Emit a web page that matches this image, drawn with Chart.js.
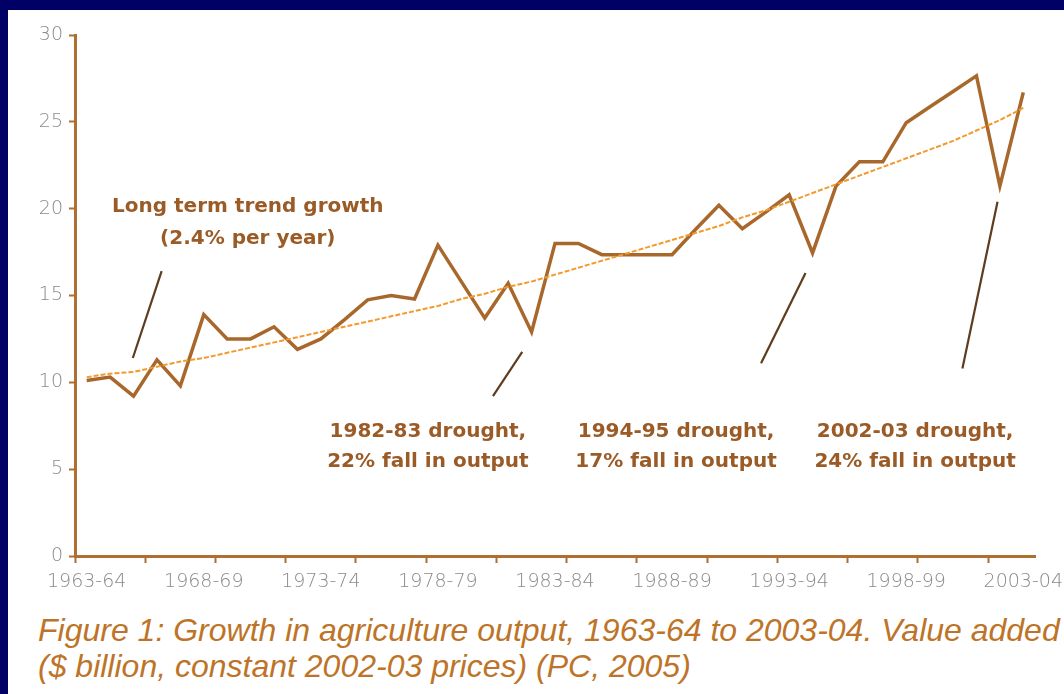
<!DOCTYPE html>
<html>
<head>
<meta charset="utf-8">
<title>Growth in agriculture output</title>
<script src="https://cdn.jsdelivr.net/npm/chart.js@4.4.1/dist/chart.umd.min.js"></script>
<style>
    html, body { margin: 0; padding: 0; }
    body { width: 1064px; height: 694px; background: #000066; position: relative; overflow: hidden; }
    .panel { position: absolute; left: 8px; top: 10px; width: 1056px; height: 684px; background: #ffffff; }
    .chart-box { position: absolute; left: 0; top: 0; width: 1056px; height: 600px; }
    .caption {
        position: absolute; left: 30px; top: 602px;
        font-family: "Liberation Sans", sans-serif;
        font-style: italic; font-size: 32px; line-height: 36px;
        color: #bd7428; white-space: nowrap;
    }
</style>
</head>
<body>
<div class="panel">
    <div class="chart-box"><canvas id="agri-chart"></canvas></div>
    <div class="caption">Figure 1: Growth in agriculture output, 1963-64 to 2003-04. Value added<br>($ billion, constant 2002-03 prices) (PC, 2005)</div>
</div>
<script>
// financial years on the x axis
const years = [
    '1963-64', '1964-65', '1965-66', '1966-67', '1967-68', '1968-69', '1969-70', '1970-71',
    '1971-72', '1972-73', '1973-74', '1974-75', '1975-76', '1976-77', '1977-78', '1978-79',
    '1979-80', '1980-81', '1981-82', '1982-83', '1983-84', '1984-85', '1985-86', '1986-87',
    '1987-88', '1988-89', '1989-90', '1990-91', '1991-92', '1992-93', '1993-94', '1994-95',
    '1995-96', '1996-97', '1997-98', '1998-99', '1999-00', '2000-01', '2001-02', '2002-03',
    '2003-04'
];

// value added, $ billion
const output = [
    10.1, 10.3, 9.2, 11.3, 9.8, 13.9, 12.5, 12.5, 13.2, 11.9,
    12.5, 13.6, 14.75, 15.0, 14.8, 17.9, 15.8, 13.7, 15.7, 12.9,
    18.0, 18.0, 17.35, 17.35, 17.35, 17.35, 18.8, 20.2, 18.85, 19.8,
    20.8, 17.45, 21.3, 22.7, 22.7, 24.95, 25.85, 26.75, 27.65, 21.3,
    26.7
];

// long term trend line
const trend = [
    10.3, 10.5, 10.6, 10.9, 11.2, 11.4, 11.7, 12.0, 12.3, 12.6,
    12.9, 13.2, 13.5, 13.8, 14.1, 14.4, 14.8, 15.1, 15.5, 15.8,
    16.2, 16.6, 17.0, 17.4, 17.8, 18.2, 18.6, 19.0, 19.5, 19.9,
    20.4, 20.9, 21.4, 21.9, 22.4, 22.9, 23.4, 23.9, 24.5, 25.1,
    25.8
];

const yTicks = [0, 5, 10, 15, 20, 25, 30];

// annotation text and the little pointer strokes, in data units
const notes = [
    { text: ['Long term trend growth', '(2.4% per year)'], x: 6.88, y: 19.8, gap: 32 },
    { text: ['1982-83 drought,', '22% fall in output'], x: 14.57, y: 6.85, gap: 30 },
    { text: ['1994-95 drought,', '17% fall in output'], x: 25.17, y: 6.85, gap: 30 },
    { text: ['2002-03 drought,', '24% fall in output'], x: 35.38, y: 6.85, gap: 30 }
];
const pointers = [
    [{ x: 1.97, y: 11.4 }, { x: 3.2, y: 16.4 }],
    [{ x: 17.35, y: 9.2 }, { x: 18.6, y: 11.75 }],
    [{ x: 28.8, y: 11.1 }, { x: 30.7, y: 16.3 }],
    [{ x: 37.4, y: 10.8 }, { x: 38.9, y: 20.4 }]
];

const axisColor = '#b06e30';
const lineColor = '#a8682c';
const trendColor = '#f29a2e';
const noteColor = '#9a5b27';
const pointerColor = '#5e3c1e';
const tickTextColor = '#8a8a8a';

Chart.defaults.font.family = '"DejaVu Sans", sans-serif';

const notePlugin = {
    id: 'notes',
    afterDatasetsDraw(chart) {
        const { ctx, scales: { x, y } } = chart;
        ctx.save();
        ctx.font = 'bold 20px "DejaVu Sans"';
        ctx.fillStyle = noteColor;
        ctx.textAlign = 'center';
        ctx.textBaseline = 'alphabetic';
        notes.forEach(n => {
            const px = x.getPixelForValue(n.x);
            const py = y.getPixelForValue(n.y);
            n.text.forEach((line, k) => ctx.fillText(line, px, py + k * n.gap));
        });
        ctx.restore();
    }
};

const datasets = [
    {
        label: 'Trend',
        data: trend.map((v, i) => ({ x: i, y: v })),
        borderColor: trendColor,
        borderWidth: 2,
        borderDash: [5, 2],
        pointRadius: 0,
        tension: 0
    },
    {
        label: 'Value added',
        data: output.map((v, i) => ({ x: i, y: v })),
        borderColor: lineColor,
        borderWidth: 3.5,
        pointRadius: 0,
        tension: 0
    }
];
pointers.forEach(p => datasets.push({
    label: 'pointer',
    data: p,
    borderColor: pointerColor,
    borderWidth: 2.2,
    pointRadius: 0
}));

new Chart(document.getElementById('agri-chart'), {
    type: 'line',
    data: { datasets },
    plugins: [notePlugin],
    options: {
        responsive: true,
        maintainAspectRatio: false,
        animation: false,
        layout: { padding: { top: 25, right: 29, left: 0, bottom: 0 } },
        plugins: { legend: { display: false }, tooltip: { enabled: false } },
        scales: {
            x: {
                type: 'linear',
                min: -0.5,
                max: 40.5,
                afterBuildTicks: (scale) => {
                    const ticks = [];
                    // tick marks every third year, labels every fifth
                    for (let v = -0.5; v < years.length - 1; v += 3) ticks.push({ value: v });
                    for (let i = 0; i < years.length; i += 5) ticks.push({ value: i });
                    ticks.sort((a, b) => a.value - b.value);
                    scale.ticks = ticks;
                },
                afterFit: (scale) => {
                    scale.height = 54;
                    // let the last year label run into the margin
                    scale.paddingRight = 0;
                    scale.paddingLeft = 0;
                },
                ticks: {
                    autoSkip: false,
                    maxRotation: 0,
                    padding: 8,
                    color: tickTextColor,
                    font: { size: 19, weight: 200 },
                    callback: (value) => Number.isInteger(value) && value % 5 === 0 ? years[value] : ''
                },
                grid: {
                    drawOnChartArea: false,
                    tickLength: 7,
                    tickWidth: 2,
                    tickColor: (ctx) => ctx.tick && !Number.isInteger(ctx.tick.value) ? axisColor : 'rgba(0,0,0,0)'
                },
                border: { color: axisColor, width: 3 }
            },
            y: {
                min: 0,
                max: 30,
                afterBuildTicks: (scale) => { scale.ticks = yTicks.map(v => ({ value: v })); },
                afterFit: (scale) => { scale.width = 67; },
                ticks: {
                    padding: 6,
                    color: tickTextColor,
                    font: { size: 19, weight: 200 }
                },
                grid: {
                    drawOnChartArea: false,
                    tickLength: 6,
                    tickWidth: 2,
                    tickColor: axisColor
                },
                border: { color: axisColor, width: 3 }
            }
        }
    }
});
</script>
</body>
</html>
